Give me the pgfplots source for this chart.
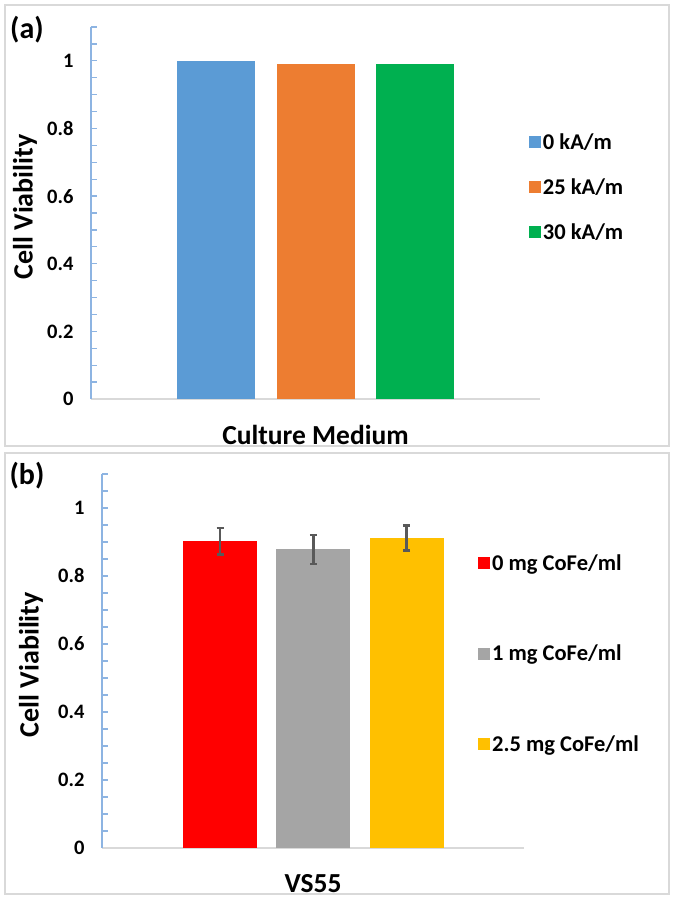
\documentclass[border=0pt]{standalone}
\usepackage{pgfplots}
\pgfplotsset{compat=1.18}
\usepackage{fontspec}
\setmainfont{Carlito}

\definecolor{cblue}{HTML}{5B9BD5}
\definecolor{corange}{HTML}{ED7D31}
\definecolor{cgreen}{HTML}{00B050}
\definecolor{cred}{HTML}{FF0000}
\definecolor{cgray}{HTML}{A5A5A5}
\definecolor{cyellow}{HTML}{FFC000}
\definecolor{axblue}{HTML}{8DB4E2}
\definecolor{axgray}{HTML}{D9D9D9}
\definecolor{errgray}{HTML}{595959}

\pgfplotsset{
  panel/.style={
    scale only axis,
    ybar,
    ymin=0, ymax=1.1, xmin=0.5, xmax=1.5,
    axis x line=bottom, axis y line=left,
    axis line style={-},
    x axis line style={draw=axgray, line width=1.2pt},
    y axis line style={draw=axblue, line width=1.2pt},
    ytick={0,0.2,0.4,0.6,0.8,1},
    minor ytick={0.05,0.1,0.15,0.25,0.3,0.35,0.45,0.5,0.55,0.65,0.7,0.75,0.85,0.9,0.95,1.05,1.1},
    ytick pos=left, tick align=inside,
    major tick length=6pt, minor tick length=6pt,
    every tick/.style={draw=axblue, line width=1.2pt},
    /pgf/number format/assume math mode=true,
    yticklabel style={font=\bfseries\fontsize{20.5}{20.5}\selectfont, xshift=-14pt},
    xtick={1}, major x tick style={draw=none},
    xticklabel style={font=\bfseries\fontsize{27.5}{27.5}\selectfont, yshift=-23pt},
    ylabel style={font=\bfseries\fontsize{28}{28}\selectfont},
    bar width=0.175,
    legend image code/.code={\fill[##1, draw=none] (0pt,-6pt) rectangle (12pt,6pt);},
    legend cell align=left,
    legend style={draw=none, fill=none, inner sep=0pt,
      font=\bfseries\fontsize{22.5}{22.5}\selectfont, anchor=north west},
  }
}

\begin{document}
\begin{tikzpicture}[x=1pt,y=1pt]
\path[fill=white] (0,0) rectangle (674,900);
\draw[axgray, line width=1.5pt] (5,895) rectangle (669,454);
\draw[axgray, line width=1.5pt] (5,447) rectangle (669,6);
\node[font=\bfseries\fontsize{30}{30}\selectfont] at (27,870) {(a)};
\node[font=\bfseries\fontsize{30}{30}\selectfont] at (27,424) {(b)};

\begin{axis}[panel,
  at={(91pt,501pt)}, anchor=south west,
  width=449pt, height=372pt,
  xticklabels={Culture Medium},
  ylabel={Cell Viability},
  ylabel style={at={(axis description cs:-0.147,0.516)}, anchor=center},
  legend style={at={(axis description cs:0.975,0.719)}, row sep=23.5pt},
]
\addplot[fill=cblue, draw=none, bar shift=-0.222] coordinates {(1,1.00)};
\addplot[fill=corange, draw=none, bar shift=0.001] coordinates {(1,0.99)};
\addplot[fill=cgreen, draw=none, bar shift=0.222] coordinates {(1,0.99)};
\legend{0 kA/m, 25 kA/m, 30 kA/m}
\end{axis}

\begin{axis}[panel,
  at={(102pt,52pt)}, anchor=south west,
  width=422pt, height=374pt,
  xticklabels={VS55},
  ylabel={Cell Viability},
  ylabel style={at={(axis description cs:-0.168,0.49)}, anchor=center},
  legend style={at={(axis description cs:0.891,0.79)}, row sep=69pt},
  error bars/y dir=both, error bars/y explicit,
  error bars/error mark=|,
  error bars/error bar style={draw=errgray, line width=2.5pt},
  error bars/error mark options={draw=errgray, line width=2.5pt, mark size=3.5pt},
]
\addplot[fill=cred, draw=none, bar shift=-0.220] coordinates {(1,0.902) +- (0,0.039)};
\addplot[fill=cgray, draw=none, bar shift=0.001] coordinates {(1,0.878) +- (0,0.043)};
\addplot[fill=cyellow, draw=none, bar shift=0.222] coordinates {(1,0.912) +- (0,0.037)};
\legend{0 mg CoFe/ml, 1 mg CoFe/ml, 2.5 mg CoFe/ml}
\end{axis}
\end{tikzpicture}
\end{document}
